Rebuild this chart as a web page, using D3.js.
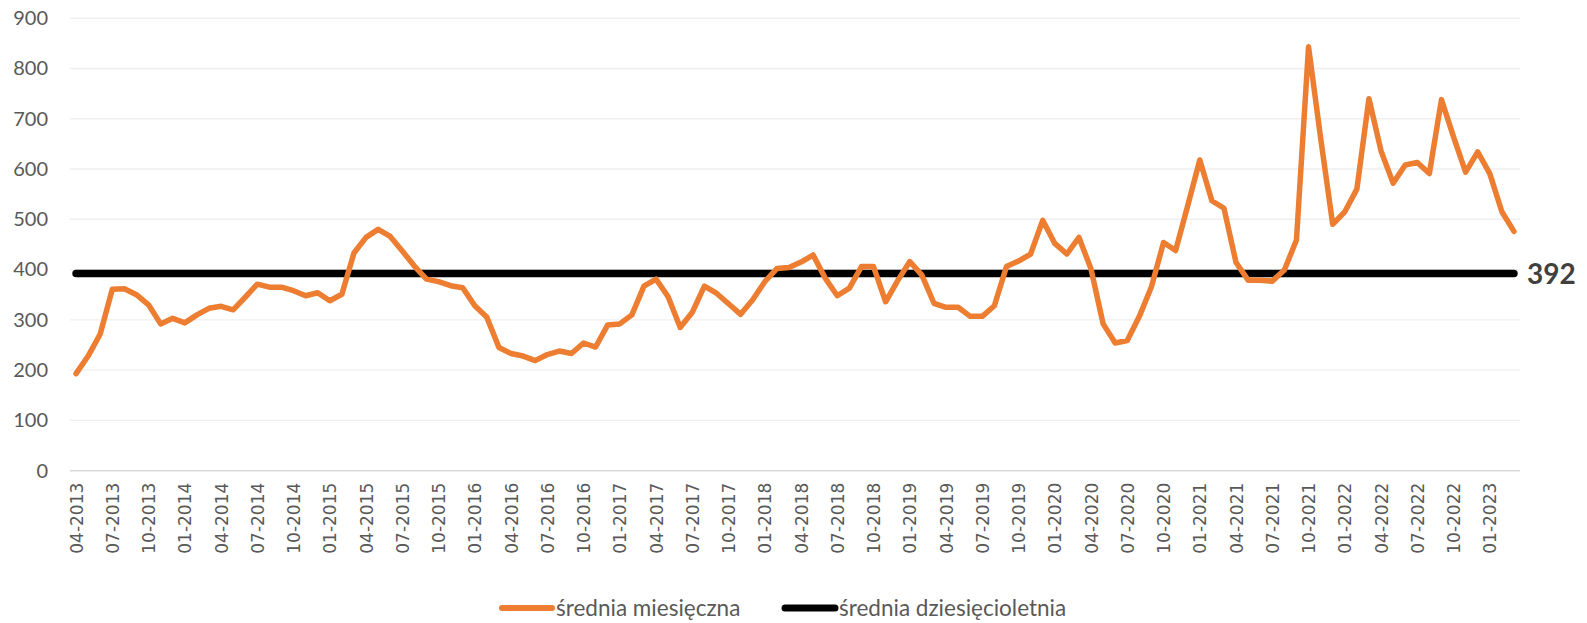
<!DOCTYPE html>
<html>
<head>
<meta charset="utf-8">
<script src="https://cdn.jsdelivr.net/npm/d3@7"></script>
<style>
  html, body { margin: 0; padding: 0; background: #ffffff; }
  svg { display: block; }
</style>
</head>
<body>
<svg id="chart" width="1587" height="623"></svg>
<script>
// ---- data ----
const months = [
  "04-2013","05-2013","06-2013","07-2013","08-2013","09-2013","10-2013","11-2013","12-2013",
  "01-2014","02-2014","03-2014","04-2014","05-2014","06-2014","07-2014","08-2014","09-2014","10-2014","11-2014","12-2014",
  "01-2015","02-2015","03-2015","04-2015","05-2015","06-2015","07-2015","08-2015","09-2015","10-2015","11-2015","12-2015",
  "01-2016","02-2016","03-2016","04-2016","05-2016","06-2016","07-2016","08-2016","09-2016","10-2016","11-2016","12-2016",
  "01-2017","02-2017","03-2017","04-2017","05-2017","06-2017","07-2017","08-2017","09-2017","10-2017","11-2017","12-2017",
  "01-2018","02-2018","03-2018","04-2018","05-2018","06-2018","07-2018","08-2018","09-2018","10-2018","11-2018","12-2018",
  "01-2019","02-2019","03-2019","04-2019","05-2019","06-2019","07-2019","08-2019","09-2019","10-2019","11-2019","12-2019",
  "01-2020","02-2020","03-2020","04-2020","05-2020","06-2020","07-2020","08-2020","09-2020","10-2020","11-2020","12-2020",
  "01-2021","02-2021","03-2021","04-2021","05-2021","06-2021","07-2021","08-2021","09-2021","10-2021","11-2021","12-2021",
  "01-2022","02-2022","03-2022","04-2022","05-2022","06-2022","07-2022","08-2022","09-2022","10-2022","11-2022","12-2022",
  "01-2023","02-2023","03-2023"
];
const monthlyAvg = [
  193,228,272,361,362,350,330,292,303,294,310,323,327,320,345,371,365,365,358,348,
  354,338,351,433,464,480,466,437,407,381,376,368,364,328,305,245,233,228,219,231,
  238,233,254,246,290,292,310,367,381,346,285,315,367,353,332,311,340,376,402,404,
  415,429,383,348,363,406,406,336,378,416,389,333,325,325,307,307,328,406,417,431,
  498,452,431,464,401,292,254,259,307,366,454,438,527,618,537,522,414,379,379,377,
  399,459,843,662,490,515,560,740,636,572,608,613,591,738,664,594,634,591,515,476
];
const decadeAvg = 392;
const yTicks = [0,100,200,300,400,500,600,700,800,900];
const tickLabels = months.filter((m, i) => i % 3 === 0);
const seriesNames = ["średnia miesięczna", "średnia dziesięcioletnia"];
const seriesColors = ["#ED7D31", "#000000"];

// ---- layout ----
const svg = d3.select("#chart");
const plotLeft = 70, plotRight = 1520, plotTop = 18.2, plotBottom = 470.7;

const x = d3.scalePoint().domain(months).range([plotLeft, plotRight]).padding(0.5);
const y = d3.scaleLinear().domain([0, 900]).range([plotBottom, plotTop]);

// gridlines
svg.append("g").selectAll("line").data(yTicks).join("line")
  .attr("x1", plotLeft).attr("x2", plotRight)
  .attr("y1", d => y(d)).attr("y2", d => y(d))
  .attr("stroke", d => d === 0 ? "#d9d9d9" : "#efefef")
  .attr("stroke-width", d => d === 0 ? 1.6 : 1.4);

// y axis labels
const yAxis = d3.axisLeft(y).tickValues(yTicks).tickSize(0).tickPadding(0);
const gy = svg.append("g").attr("transform", "translate(48,0)").call(yAxis);
gy.select(".domain").remove();
gy.selectAll("text")
  .attr("font-family", "Lato, 'Open Sans', sans-serif")
  .attr("font-size", 20)
  .attr("fill", "#595959")
  .attr("x", 0);

// x axis labels
const xAxis = d3.axisBottom(x).tickValues(tickLabels).tickSize(0).tickPadding(0);
const gx = svg.append("g").attr("transform", `translate(0,${plotBottom})`).call(xAxis);
gx.select(".domain").remove();
gx.selectAll("text")
  .attr("font-family", "'DejaVu Sans', Verdana, sans-serif")
  .attr("font-size", 17)
  .attr("fill", "#595959")
  .attr("transform", "rotate(-90)")
  .attr("text-anchor", "end")
  .attr("x", -12)
  .attr("y", 0)
  .attr("dy", "0.36em");

// ten-year average line
svg.append("line")
  .attr("x1", x(months[0])).attr("x2", x(months[months.length - 1]))
  .attr("y1", y(decadeAvg)).attr("y2", y(decadeAvg))
  .attr("stroke", seriesColors[1]).attr("stroke-width", 7.5)
  .attr("stroke-linecap", "round");

// monthly line
const line = d3.line().x((d, i) => x(months[i])).y(d => y(d));
svg.append("path")
  .datum(monthlyAvg)
  .attr("d", line)
  .attr("fill", "none")
  .attr("stroke", seriesColors[0])
  .attr("stroke-width", 5.5)
  .attr("stroke-linejoin", "round")
  .attr("stroke-linecap", "round");

// label of the average
svg.append("text")
  .attr("x", x(months[months.length - 1]) + 13)
  .attr("y", y(decadeAvg))
  .attr("dy", "0.36em")
  .attr("font-family", "Lato, 'Open Sans', sans-serif")
  .attr("font-weight", "bold")
  .attr("font-size", 28)
  .attr("fill", "#404040")
  .text(decadeAvg);

// legend
const legendItems = [
  { name: seriesNames[0], color: seriesColors[0], x: 499, w: 6 },
  { name: seriesNames[1], color: seriesColors[1], x: 782, w: 7 }
];
const lg = svg.append("g");
legendItems.forEach(it => {
  lg.append("line")
    .attr("x1", it.x + 3).attr("x2", it.x + 53)
    .attr("y1", 608).attr("y2", 608)
    .attr("stroke", it.color).attr("stroke-width", it.w)
    .attr("stroke-linecap", "round");
  lg.append("text")
    .attr("x", it.x + 57).attr("y", 608)
    .attr("dy", "0.35em")
    .attr("font-family", "Lato, 'Open Sans', sans-serif")
    .attr("font-size", 22.5)
    .attr("fill", "#595959")
    .text(it.name);
});
</script>
</body>
</html>
